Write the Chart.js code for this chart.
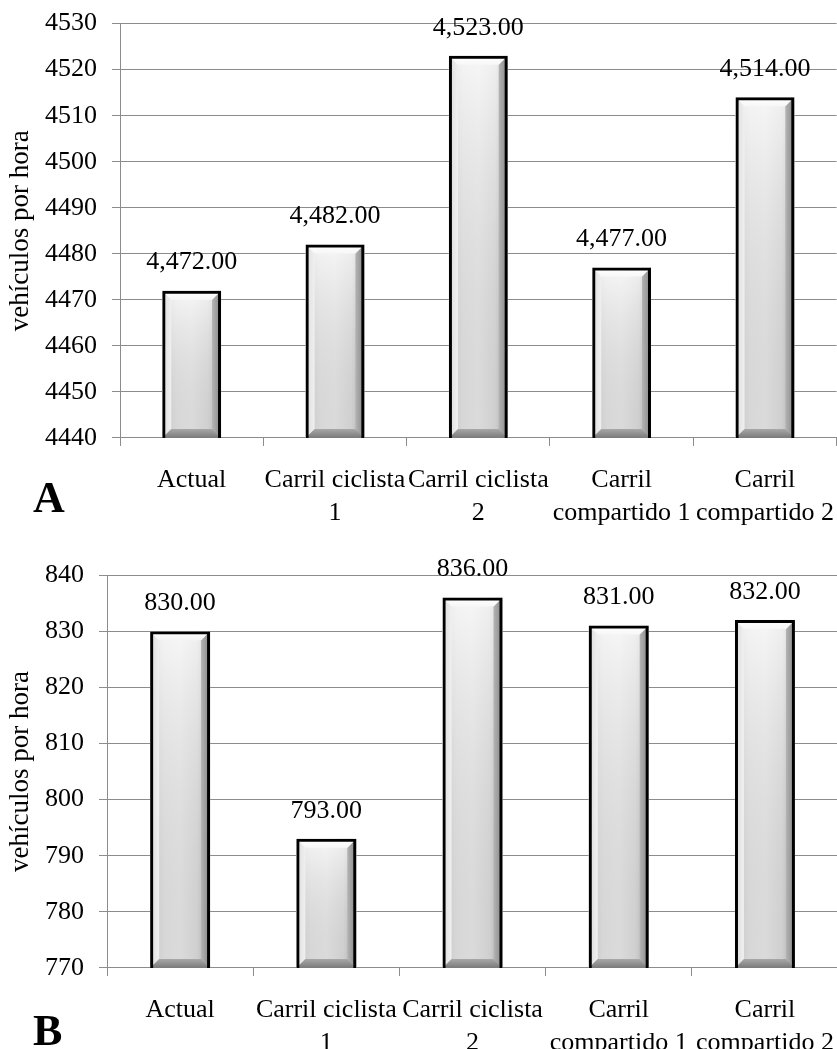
<!DOCTYPE html>
<html>
<head>
<meta charset="utf-8">
<script src="https://cdn.jsdelivr.net/npm/chart.js@4.4.1/dist/chart.umd.min.js"></script>
<style>
  html, body { margin: 0; padding: 0; background: #fff; }
  #wrap { position: relative; width: 837px; height: 1049px; overflow: hidden; }
  canvas { position: absolute; left: 0; }
  #cA { top: -7px; }
  #cB { top: 525px; }
  .panel { position: absolute; font-family: 'Liberation Serif', 'Times New Roman', serif; font-weight: bold; font-size: 44px; line-height: 1; color: #000; }
</style>
</head>
<body>
<div id="wrap">
  <canvas id="cA" width="852" height="555"></canvas>
  <canvas id="cB" width="852" height="553"></canvas>
  <div class="panel" style="left:33px; top:476px;">A</div>
  <div class="panel" style="left:33px; top:1009px;">B</div>
</div>
<script>
const categories = [['Actual'], ['Carril ciclista', '1'], ['Carril ciclista', '2'], ['Carril', 'compartido 1'], ['Carril', 'compartido 2']];
const valuesA = [4472, 4482, 4523, 4477, 4514];
const valuesB = [830, 793, 836, 831, 832];
const yRangeA = [4440, 4530];
const yRangeB = [770, 840];
const yStep = 10;
const yTitle = 'vehículos por hora';

const FONT = "'Liberation Serif', 'Times New Roman', serif";
const GRID = '#8c8c8c';

const bevelPlugin = {
  id: 'bevel',
  beforeDatasetsDraw(chart) {
    const ctx = chart.ctx;
    const area = chart.chartArea;
    const meta = chart.getDatasetMeta(0);
    meta.data.forEach(el => {
      const p = el.getProps(['x', 'y', 'base', 'width'], true);
      const L = p.x - p.width / 2, R = p.x + p.width / 2;
      const T = Math.max(Math.min(p.y, p.base), area.top);
      const B = Math.min(Math.max(p.y, p.base), area.bottom);
      const b = 9;
      ctx.save();
      let g = ctx.createLinearGradient(L, 0, R, 0);
      g.addColorStop(0, '#d4d4d4');
      g.addColorStop(0.25, '#e8e8e8');
      g.addColorStop(0.5, '#ececec');
      g.addColorStop(0.78, '#dedede');
      g.addColorStop(1, '#b0b0b0');
      ctx.fillStyle = g;
      ctx.fillRect(L, T, R - L, B - T);
      let gv = ctx.createLinearGradient(0, T, 0, B);
      gv.addColorStop(0, 'rgba(255,255,255,0.55)');
      gv.addColorStop(1, 'rgba(150,150,150,0.2)');
      ctx.fillStyle = gv;
      ctx.fillRect(L, T, R - L, B - T);
      let gl = ctx.createLinearGradient(L, 0, L + b, 0);
      gl.addColorStop(0, '#dcdcdc');
      gl.addColorStop(1, '#f0f0f0');
      ctx.fillStyle = gl;
      ctx.beginPath(); ctx.moveTo(L, T); ctx.lineTo(L + b, T + b); ctx.lineTo(L + b, B - b); ctx.lineTo(L, B); ctx.closePath(); ctx.fill();
      let gr = ctx.createLinearGradient(R - b, 0, R, 0);
      gr.addColorStop(0, '#b4b4b4');
      gr.addColorStop(1, '#868686');
      ctx.fillStyle = gr;
      ctx.beginPath(); ctx.moveTo(R, T); ctx.lineTo(R - b, T + b); ctx.lineTo(R - b, B - b); ctx.lineTo(R, B); ctx.closePath(); ctx.fill();
      let gt = ctx.createLinearGradient(0, T, 0, T + b);
      gt.addColorStop(0, '#ffffff');
      gt.addColorStop(1, '#f7f7f7');
      ctx.fillStyle = gt;
      ctx.beginPath(); ctx.moveTo(L, T); ctx.lineTo(R, T); ctx.lineTo(R - b, T + b); ctx.lineTo(L + b, T + b); ctx.closePath(); ctx.fill();
      let gb = ctx.createLinearGradient(0, B - b, 0, B);
      gb.addColorStop(0, '#a8a8a8');
      gb.addColorStop(1, '#7a7a7a');
      ctx.fillStyle = gb;
      ctx.beginPath(); ctx.moveTo(L, B); ctx.lineTo(R, B); ctx.lineTo(R - b, B - b); ctx.lineTo(L + b, B - b); ctx.closePath(); ctx.fill();
      ctx.restore();
    });
  }
};

const labelPlugin = {
  id: 'valueLabels',
  afterDatasetsDraw(chart) {
    const ctx = chart.ctx;
    const ds = chart.data.datasets[0];
    const meta = chart.getDatasetMeta(0);
    ctx.save();
    ctx.font = '26px ' + FONT;
    ctx.fillStyle = '#000';
    ctx.textAlign = 'center';
    ctx.textBaseline = 'middle';
    meta.data.forEach((el, i) => {
      const v = ds.data[i];
      const txt = v.toLocaleString('en-US', { minimumFractionDigits: 2, maximumFractionDigits: 2 });
      ctx.fillText(txt, el.x, el.y - 28);
    });
    ctx.restore();
  }
};

const yTitlePlugin = {
  id: 'yTitle',
  afterDraw(chart) {
    const ctx = chart.ctx;
    const a = chart.chartArea;
    ctx.save();
    ctx.font = '27px ' + FONT;
    ctx.fillStyle = '#000';
    ctx.textAlign = 'center';
    ctx.textBaseline = 'middle';
    ctx.translate(21, (a.top + a.bottom) / 2);
    ctx.rotate(-Math.PI / 2);
    ctx.fillText(yTitle, 0, 0);
    ctx.restore();
  }
};

function makeChart(id, values, range, padTop) {
  return new Chart(document.getElementById(id), {
    type: 'bar',
    data: {
      labels: categories,
      datasets: [{
        data: values,
        backgroundColor: 'rgba(0,0,0,0)',
        borderColor: '#000',
        borderWidth: 3,
        borderSkipped: false,
        categoryPercentage: 1,
        barPercentage: 0.41
      }]
    },
    options: {
      responsive: false,
      animation: false,
      events: [],
      layout: { padding: { top: padTop, left: 30, right: 1, bottom: 0 } },
      plugins: { legend: { display: false }, tooltip: { enabled: false } },
      scales: {
        x: {
          offset: true,
          grid: { offset: true, drawOnChartArea: false, color: GRID, lineWidth: 1, tickLength: 8 },
          border: { color: GRID, width: 1 },
          ticks: { color: '#000', font: { family: FONT, size: 26, lineHeight: 1.27 }, padding: 18, maxRotation: 0, autoSkip: false }
        },
        y: {
          min: range[0],
          max: range[1],
          grid: { color: GRID, lineWidth: 1, tickLength: 8 },
          border: { color: GRID, width: 1 },
          ticks: { stepSize: yStep, color: '#000', font: { family: FONT, size: 26 }, padding: 15, callback: v => String(v) }
        }
      }
    },
    plugins: [bevelPlugin, labelPlugin, yTitlePlugin]
  });
}

makeChart('cA', valuesA, yRangeA, 3);
makeChart('cB', valuesB, yRangeB, 50);
</script>
</body>
</html>
